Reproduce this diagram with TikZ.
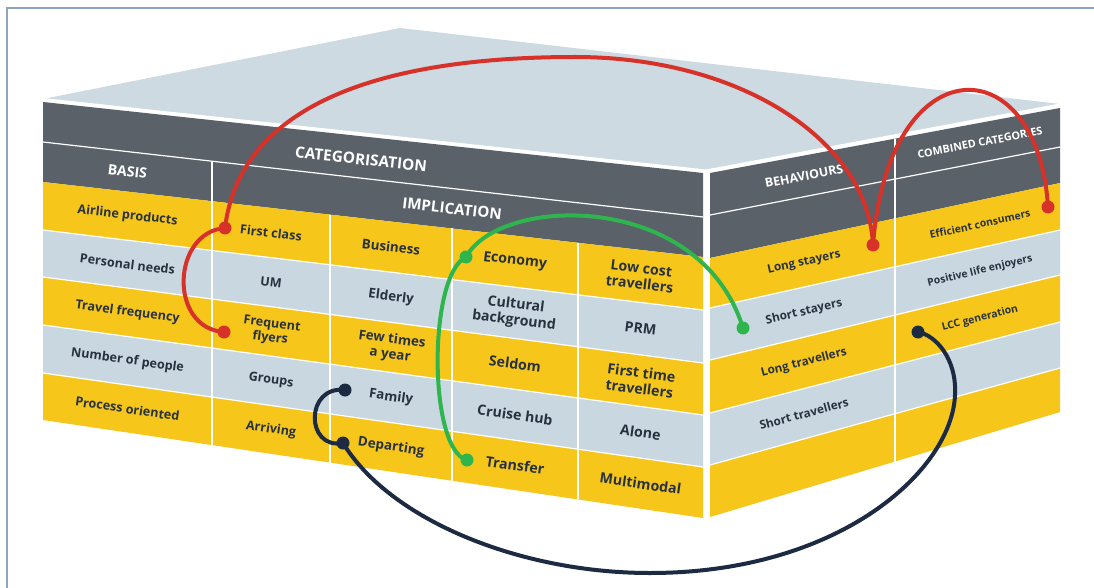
\documentclass[tikz,border=0pt]{standalone}
\usepackage{fontspec}
\setmainfont{Open Sans}
\usetikzlibrary{calc}
\definecolor{hdr}{RGB}{90,97,105}
\definecolor{ylw}{RGB}{246,198,26}
\definecolor{lbl}{RGB}{201,215,225}
\definecolor{topc}{RGB}{205,218,226}
\definecolor{txt}{RGB}{40,50,62}
\definecolor{rd}{RGB}{214,50,42}
\definecolor{gr}{RGB}{46,181,78}
\definecolor{nv}{RGB}{28,42,66}
\definecolor{frm}{RGB}{140,166,192}
\begin{document}
\begin{tikzpicture}[x=1pt,y=-1pt,
 cell/.style={text=txt, align=center, inner sep=0pt},
 ca/.style={cell, font=\bfseries\fontsize{12.6}{14}\selectfont},
 cb/.style={cell, font=\bfseries\fontsize{13.4}{15}\selectfont},
 cc/.style={cell, font=\bfseries\fontsize{14.2}{16}\selectfont},
 ra/.style={cell, font=\bfseries\fontsize{11.8}{13}\selectfont},
 rb/.style={cell, font=\bfseries\fontsize{10.4}{12}\selectfont},
 head/.style={text=white, inner sep=0pt},
 sep/.style={white, line width=1.2pt},
 dot/.style={circle, inner sep=0pt, minimum size=13pt},
 link/.style={line width=4pt, line cap=round}]
\useasboundingbox (0,0) rectangle (1094,588);
\fill[white] (0,0) rectangle (1094,588);
\draw[frm, line width=2.5pt] (7,588) -- (7,8) -- (1094,8);
% top face
\fill[topc] (43,99) -- (400,28) -- (1060,104) -- (706,171) -- cycle;
\draw[white, line width=3pt, line join=round] (43,99.5) -- (706,171) -- (1060,105);
% front face
\foreach \i/\l/\r in {0/102/173,1/142/217,2/182/257,3/230/310,4/277/363,5/325/415,6/373/467,7/420/518}{
  \coordinate (L\i) at (43,\l); \coordinate (R\i) at (703,\r);}
\fill[hdr] (L0) -- (R0) -- (R2) -- (L2) -- cycle;
\fill[ylw] (L2) -- (R2) -- (R3) -- (L3) -- cycle;
\fill[lbl] (L3) -- (R3) -- (R4) -- (L4) -- cycle;
\fill[ylw] (L4) -- (R4) -- (R5) -- (L5) -- cycle;
\fill[lbl] (L5) -- (R5) -- (R6) -- (L6) -- cycle;
\fill[ylw] (L6) -- (R6) -- (R7) -- (L7) -- cycle;
\foreach \i in {1,3,4,5,6} \draw[sep] (L\i) -- (R\i);
\draw[sep] ($(L1)!0.2561!(R1)$) -- ($(L7)!0.2561!(R7)$);
\foreach \t in {0.4348,0.6197,0.8106} \draw[sep] ($(L2)!\t!(R2)$) -- ($(L7)!\t!(R7)$);
% right face
\foreach \i/\l/\r in {0/173/108,1/215/147,2/258/183,3/308/230,4/360/275,5/413/322,6/465/368,7/517/412}{
  \coordinate (P\i) at (710,\l); \coordinate (Q\i) at (1060,\r);}
\fill[hdr] (P0) -- (Q0) -- (Q2) -- (P2) -- cycle;
\fill[ylw] (P2) -- (Q2) -- (Q3) -- (P3) -- cycle;
\fill[lbl] (P3) -- (Q3) -- (Q4) -- (P4) -- cycle;
\fill[ylw] (P4) -- (Q4) -- (Q5) -- (P5) -- cycle;
\fill[lbl] (P5) -- (Q5) -- (Q6) -- (P6) -- cycle;
\fill[ylw] (P6) -- (Q6) -- (Q7) -- (P7) -- cycle;
\foreach \i in {1,3,4,5,6} \draw[sep] (P\i) -- (Q\i);
\draw[sep] ($(P0)!0.5286!(Q0)$) -- ($(P7)!0.5286!(Q7)$);
% text anchors
\foreach \c/\t in {1/0.128,2/0.3455,3/0.5273,4/0.7152,5/0.9053}{
  \foreach \i in {1,...,7}{\coordinate (F\c-\i) at ($(L\i)!\t!(R\i)$);}}
\foreach \c/\t in {1/0.2686,2/0.7714}{
  \foreach \i in {0,...,7}{\coordinate (G\c-\i) at ($(P\i)!\t!(Q\i)$);}}
\coordinate (ct0) at ($(L0)!0.4818!(R0)$);
\coordinate (ct1) at ($(L1)!0.4818!(R1)$);
\coordinate (im1) at ($(L1)!0.6197!(R1)$);
\coordinate (im2) at ($(L2)!0.6197!(R2)$);
% headers
\node[head, font=\bfseries\fontsize{15.4}{17}\selectfont, rotate=-6.2] (hcat) at ($(ct0)!0.55!(ct1)$) {CATEGORISATION};
\node[head, font=\bfseries\fontsize{14.2}{16}\selectfont, rotate=-6.4] (hbas) at ($(F1-1)!0.5!(F1-2)$) {BASIS};
\node[head, font=\bfseries\fontsize{15.2}{17}\selectfont, rotate=-6.5] (himp) at ($(im1)!0.5!(im2)$) {IMPLICATION};
\node[head, font=\bfseries\fontsize{12.4}{14}\selectfont, rotate=10.8] (hbeh) at ($(G1-0)!0.5!(G1-1)$) {BEHAVIOURS};
\node[head, font=\bfseries\fontsize{10.8}{12}\selectfont, rotate=10.8] (hcom) at ($(G2-0)!0.5!(G2-1)$) {COMBINED CATEGORIES};
% front cells
\node[ca, rotate=-6.7] (c11) at ($(F1-2)!0.5!(F1-3)$) {Airline products};
\node[ca, rotate=-7.1] (c12) at ($(F1-3)!0.5!(F1-4)$) {Personal needs};
\node[ca, rotate=-7.5] (c13) at ($(F1-4)!0.5!(F1-5)$) {Travel frequency};
\node[ca, rotate=-7.9] (c14) at ($(F1-5)!0.5!(F1-6)$) {Number of people};
\node[ca, rotate=-8.3] (c15) at ($(F1-6)!0.5!(F1-7)$) {Process oriented};
\node[ca, rotate=-6.7] (c21) at ($(F2-2)!0.5!(F2-3)$) {First class};
\node[ca, rotate=-7.1] (c22) at ($(F2-3)!0.5!(F2-4)$) {UM};
\node[ca, rotate=-7.5] (c23) at ($(F2-4)!0.5!(F2-5)$) {Frequent\\flyers};
\node[ca, rotate=-7.9] (c24) at ($(F2-5)!0.5!(F2-6)$) {Groups};
\node[ca, rotate=-8.3] (c25) at ($(F2-6)!0.5!(F2-7)$) {Arriving};
\node[cb, rotate=-6.7] (c31) at ($(F3-2)!0.5!(F3-3)$) {Business};
\node[cb, rotate=-7.1] (c32) at ($(F3-3)!0.5!(F3-4)$) {Elderly};
\node[cb, rotate=-7.5] (c33) at ($(F3-4)!0.5!(F3-5)$) {Few times\\a year};
\node[cb, rotate=-7.9] (c34) at ($(F3-5)!0.5!(F3-6)$) {Family};
\node[cb, rotate=-8.3] (c35) at ($(F3-6)!0.5!(F3-7)$) {Departing};
\node[cc, rotate=-6.7] (c41) at ($(F4-2)!0.5!(F4-3)$) {Economy};
\node[cc, rotate=-7.1] (c42) at ($(F4-3)!0.5!(F4-4)$) {Cultural\\background};
\node[cc, rotate=-7.5] (c43) at ($(F4-4)!0.5!(F4-5)$) {Seldom};
\node[cc, rotate=-7.9] (c44) at ($(F4-5)!0.5!(F4-6)$) {Cruise hub};
\node[cc, rotate=-8.3] (c45) at ($(F4-6)!0.5!(F4-7)$) {Transfer};
\node[cc, rotate=-6.7] (c51) at ($(F5-2)!0.5!(F5-3)$) {Low cost\\travellers};
\node[cc, rotate=-7.1] (c52) at ($(F5-3)!0.5!(F5-4)$) {PRM};
\node[cc, rotate=-7.5] (c53) at ($(F5-4)!0.5!(F5-5)$) {First time\\travellers};
\node[cc, rotate=-7.9] (c54) at ($(F5-5)!0.5!(F5-6)$) {Alone};
\node[cc, rotate=-8.3] (c55) at ($(F5-6)!0.5!(F5-7)$) {Multimodal};
% right cells
\node[ra, rotate=12.4] (r11) at ($(G1-2)!0.5!(G1-3)$) {Long stayers};
\node[ra, rotate=13.2] (r12) at ($(G1-3)!0.5!(G1-4)$) {Short stayers};
\node[ra, rotate=14.2] (r13) at ($(G1-4)!0.5!(G1-5)$) {Long travellers};
\node[ra, rotate=15.0] (r14) at ($(G1-5)!0.5!(G1-6)$) {Short travellers};
\node[rb, rotate=12.4] (r21) at ($(G2-2)!0.5!(G2-3)$) {Efficient consumers};
\node[rb, rotate=13.2] (r22) at ($(G2-3)!0.5!(G2-4)$) {Positive life enjoyers};
\node[rb, rotate=14.2] (r23) at ($(G2-4)!0.5!(G2-5)$) {LCC generation};
% dots
\node[dot, fill=rd] (dfc) at (225,228) {};
\node[dot, fill=rd] (dff) at (224,332) {};
\node[dot, fill=rd] (dls) at (873,245) {};
\node[dot, fill=rd] (dec) at (1048,207) {};
\node[dot, fill=gr] (deco) at (466,257) {};
\node[dot, fill=gr] (dtr) at (467,460) {};
\node[dot, fill=gr] (dss) at (743,328) {};
\node[dot, fill=nv] (dfa) at (345,390) {};
\node[dot, fill=nv] (dde) at (343,443) {};
\node[dot, fill=nv] (dlcc) at (918,332) {};
% links
\draw[link, rd] (dfc.center) .. controls (172,232) and (168,328) .. (dff.center);
\draw[link, rd] (dfc.center) .. controls (240,105) and (380,57) .. (575,57) .. controls (740,57) and (868,140) .. (dls.center);
\draw[link, rd] (dls.center) .. controls (888,45) and (1038,45) .. (dec.center);
\draw[link, gr] (dtr.center) .. controls (428,450) and (428,275) .. (deco.center);
\draw[link, gr] (deco.center) .. controls (500,195) and (700,190) .. (dss.center);
\draw[link, nv] (dfa.center) .. controls (305,385) and (305,450) .. (dde.center);
\draw[link, nv] (dde.center) .. controls (390,520) and (520,573) .. (650,573) .. controls (840,573) and (952,470) .. (955,395) .. controls (957,358) and (935,335) .. (dlcc.center);
\end{tikzpicture}
\end{document}
